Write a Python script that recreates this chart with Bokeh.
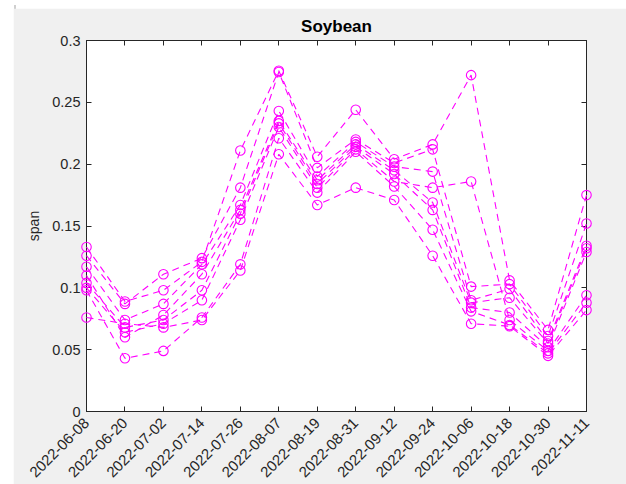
from math import pi

from bokeh.embed import file_html
from bokeh.models import (ColumnDataSource, CustomJSTickFormatter, Div,
                          FixedTicker, LinearAxis, Range1d)
from bokeh.plotting import figure
from bokeh.resources import INLINE

# Acquisition dates (x axis categories)
dates = ["2022-06-08", "2022-06-20", "2022-07-02", "2022-07-14", "2022-07-26",
         "2022-08-07", "2022-08-19", "2022-08-31", "2022-09-12", "2022-09-24",
         "2022-10-06", "2022-10-18", "2022-10-30", "2022-11-11"]

# Span time series, one list per soybean sample
span_1 = [0.133, 0.089, 0.098, 0.121, 0.211, 0.2755, 0.206, 0.244, 0.204, 0.216, 0.272, 0.106, 0.066, 0.175]
span_2 = [0.126, 0.087, 0.111, 0.124, 0.181, 0.2745, 0.197, 0.220, 0.201, 0.212, 0.101, 0.103, 0.061, 0.152]
span_3 = [0.117, 0.074, 0.087, 0.119, 0.167, 0.243, 0.190, 0.218, 0.198, 0.194, 0.090, 0.099, 0.057, 0.134]
span_4 = [0.110, 0.060, 0.078, 0.111, 0.163, 0.235, 0.187, 0.216, 0.195, 0.169, 0.088, 0.092, 0.055, 0.132]
span_5 = [0.104, 0.068, 0.074, 0.098, 0.160, 0.233, 0.184, 0.214, 0.192, 0.163, 0.084, 0.080, 0.052, 0.129]
span_6 = [0.100, 0.064, 0.071, 0.090, 0.155, 0.230, 0.181, 0.212, 0.186, 0.181, 0.186, 0.074, 0.049, 0.094]
span_7 = [0.098, 0.043, 0.049, 0.076, 0.119, 0.221, 0.177, 0.210, 0.182, 0.147, 0.081, 0.070, 0.047, 0.088]
span_8 = [0.076, 0.071, 0.068, 0.074, 0.114, 0.208, 0.167, 0.181, 0.171, 0.126, 0.071, 0.069, 0.045, 0.082]

all_series = [span_1, span_2, span_3, span_4, span_5, span_6, span_7, span_8]

y_ticks = [0, 0.05, 0.1, 0.15, 0.2, 0.25, 0.3]

MAGENTA = "#ff00ff"
INK = "#262626"
PANEL = "#f0f0f0"
FONT = "Liberation Sans"

X_MIN, X_MAX = 0, len(dates) - 1
Y_MIN, Y_MAX = 0, 0.3

# figure geometry (pixels)
FIG_W, FIG_H = 613, 476
FIG_LEFT, FIG_TOP = 13, 8
B_LEFT, B_RIGHT, B_TOP, B_BOTTOM = 73, 40, 32, 73
FRAME_W = FIG_W - B_LEFT - B_RIGHT
FRAME_H = FIG_H - B_TOP - B_BOTTOM
PAD = 9  # room so markers on the box edges are not cut

x_idx = list(range(len(dates)))

# ---- axes figure: box, ticks, labels, title ----
p = figure(width=FIG_W, height=FIG_H, output_backend="svg", toolbar_location=None,
           x_range=Range1d(X_MIN, X_MAX), y_range=Range1d(Y_MIN, Y_MAX),
           x_axis_location=None, y_axis_location=None,
           min_border_left=B_LEFT, min_border_right=B_RIGHT,
           min_border_top=B_TOP, min_border_bottom=B_BOTTOM,
           styles={"position": "absolute", "left": f"{FIG_LEFT}px", "top": f"{FIG_TOP}px"})
p.border_fill_color = PANEL
p.background_fill_color = "white"
p.outline_line_color = INK
p.grid.visible = False

p.title.text = "Soybean"
p.title.align = "center"
p.title.text_font = FONT
p.title.text_font_size = "17px"
p.title.text_font_style = "bold"
p.title.text_color = "black"

x_ticker = FixedTicker(ticks=x_idx)
y_ticker = FixedTicker(ticks=y_ticks)
y_fmt = CustomJSTickFormatter(code="return Number(tick.toFixed(2)).toString();")


def style_axis(ax, show_labels):
    ax.axis_line_color = INK
    ax.major_tick_line_color = INK
    ax.major_tick_in = 5
    ax.major_tick_out = 0
    ax.minor_tick_line_color = None
    ax.major_label_text_font = FONT
    if show_labels:
        ax.major_label_text_color = INK
        ax.major_label_text_font_size = "14.5px"
        ax.major_label_standoff = 6
    else:
        ax.major_label_text_color = None
        ax.major_label_text_font_size = "1px"
        ax.major_label_standoff = 0


bottom = LinearAxis(ticker=x_ticker,
                    major_label_overrides={i: d for i, d in enumerate(dates)})
style_axis(bottom, True)
bottom.major_label_text_font_size = "15px"
bottom.major_label_orientation = pi / 4
bottom.major_label_standoff = 9
p.add_layout(bottom, "below")

left = LinearAxis(ticker=y_ticker, formatter=y_fmt, axis_label="span")
style_axis(left, True)
left.axis_label_text_font = FONT
left.axis_label_text_font_size = "14px"
left.axis_label_text_font_style = "normal"
left.axis_label_text_color = INK
left.axis_label_standoff = 7
p.add_layout(left, "left")

top = LinearAxis(ticker=x_ticker)
style_axis(top, False)
p.add_layout(top, "above")

right = LinearAxis(ticker=y_ticker)
style_axis(right, False)
p.add_layout(right, "right")

# ---- transparent data layer, same scale, frame widened by PAD on every side ----
dx = (X_MAX - X_MIN) / FRAME_W
dy = (Y_MAX - Y_MIN) / FRAME_H
q = figure(width=FIG_W, height=FIG_H, output_backend="svg", toolbar_location=None,
           x_range=Range1d(X_MIN - PAD * dx, X_MAX + PAD * dx),
           y_range=Range1d(Y_MIN - PAD * dy, Y_MAX + PAD * dy),
           x_axis_location=None, y_axis_location=None,
           min_border_left=B_LEFT - PAD, min_border_right=B_RIGHT - PAD,
           min_border_top=B_TOP - PAD, min_border_bottom=B_BOTTOM - PAD,
           styles={"position": "absolute", "left": f"{FIG_LEFT}px", "top": f"{FIG_TOP}px"})
q.border_fill_color = None
q.background_fill_color = None
q.outline_line_color = None
q.grid.visible = False

for values in all_series:
    src = ColumnDataSource(dict(x=x_idx, y=values))
    q.line("x", "y", source=src, line_color=MAGENTA, line_width=1.1,
           line_dash="7 5")
    q.scatter("x", "y", source=src, marker="circle", size=9.5,
              fill_color=None, line_color=MAGENTA, line_width=1.1)

# thin divider line at the left edge of the window
edge = Div(text="", width=2, height=484,
           styles={"position": "absolute", "left": "9px", "top": "0px",
                   "background-color": "#cfcfcf"})

open("out.html", "w").write(file_html([edge, p, q], INLINE))
